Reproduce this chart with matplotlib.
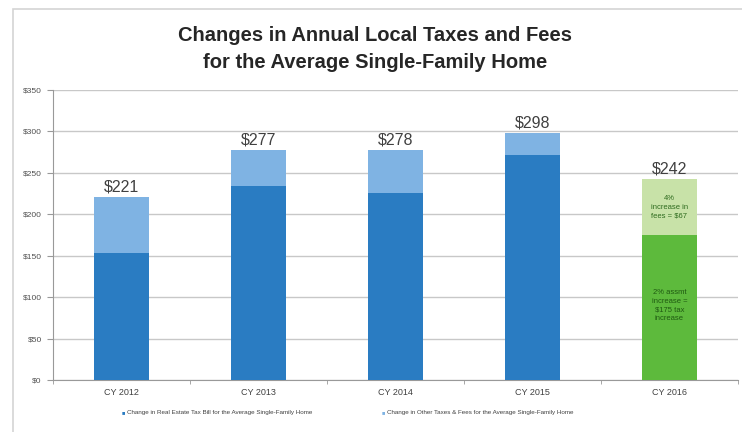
import matplotlib.pyplot as plt
from matplotlib.patches import Rectangle
import numpy as np

# DATA:
years = ['CY 2012', 'CY 2013', 'CY 2014', 'CY 2015', 'CY 2016']
real_estate = [153, 234, 226, 271, 175]   # dark segment
other_fees = [68, 43, 52, 27, 67]         # light segment
totals = [221, 277, 278, 298, 242]
y_ticks = [0, 50, 100, 150, 200, 250, 300, 350]

# COLOURS:
dark_blue = '#2a7cc2'
light_blue = '#7fb3e3'
dark_green = '#5dba3c'
light_green = '#c8e2a8'
grid_grey = '#c8c8c8'

plt.rcParams['font.family'] = ['Liberation Sans', 'DejaVu Sans']

fig = plt.figure(figsize=(7.42, 4.32), dpi=100)
ax = fig.add_axes([0.0714, 0.1204, 0.9232, 0.6713])

# outer frame round the whole chart
fig.patches.append(Rectangle((0.017, -0.02), 1.0, 1.0, transform=fig.transFigure,
                             fill=False, edgecolor='#d4d4d4', linewidth=1.2))

x = np.arange(len(years))
bottom_colors = [dark_blue] * 4 + [dark_green]
top_colors = [light_blue] * 4 + [light_green]

ax.bar(x, real_estate, width=0.4, color=bottom_colors, zorder=3)
ax.bar(x, other_fees, width=0.4, bottom=real_estate, color=top_colors, zorder=3)

# total labels over each bar
for i, t in enumerate(totals):
    ax.text(x[i], t + 3, f'${t}', ha='center', va='bottom', fontsize=11.5,
            color='#404040', zorder=4)

# notes inside the 2016 bar
ax.text(x[4], real_estate[4] + other_fees[4] / 2, '4%\nincrease in\nfees = $67',
        ha='center', va='center', fontsize=5.5, color='#2e6b1e', linespacing=1.3, zorder=4)
ax.text(x[4], 90, '2% assmt\nincrease =\n$175 tax\nincrease',
        ha='center', va='center', fontsize=5.5, color='#1f5a12', linespacing=1.3, zorder=4)

ax.set_xlim(-0.5, len(years) - 0.5)
ax.set_ylim(0, 350)
ax.set_yticks(y_ticks)
ax.set_yticklabels([f'${v}' for v in y_ticks], fontsize=6, color='#505050')
ax.set_xticks(x)
ax.set_xticklabels(years, fontsize=6.5, color='#404040')
ax.set_xticks(np.arange(len(years) + 1) - 0.5, minor=True)
ax.tick_params(axis='x', which='major', length=0, pad=6)
ax.tick_params(axis='x', which='minor', length=3, color='#999999')
ax.tick_params(axis='y', length=4, color='#999999', pad=4)

ax.grid(axis='y', color=grid_grey, linewidth=1, zorder=0)
for side in ['top', 'right']:
    ax.spines[side].set_visible(False)
ax.spines['left'].set_color('#999999')
ax.spines['bottom'].set_color('#999999')

# TITLE:
fig.text(0.505, 0.886, 'Changes in Annual Local Taxes and Fees\nfor the Average Single-Family Home',
         ha='center', va='center', fontsize=14.5, fontweight='bold', color='#262626',
         linespacing=1.5)

# LEGEND:
fig.text(0.168, 0.044, '■', fontsize=4, color=dark_blue, va='center', ha='right')
fig.text(0.171, 0.044, 'Change in Real Estate Tax Bill for the Average Single-Family Home',
         fontsize=4.5, color='#404040', va='center')
fig.text(0.519, 0.044, '■', fontsize=4, color=light_blue, va='center', ha='right')
fig.text(0.522, 0.044, 'Change in Other Taxes & Fees for the Average Single-Family Home',
         fontsize=4.5, color='#404040', va='center')

fig.savefig('out.png', dpi=100)
